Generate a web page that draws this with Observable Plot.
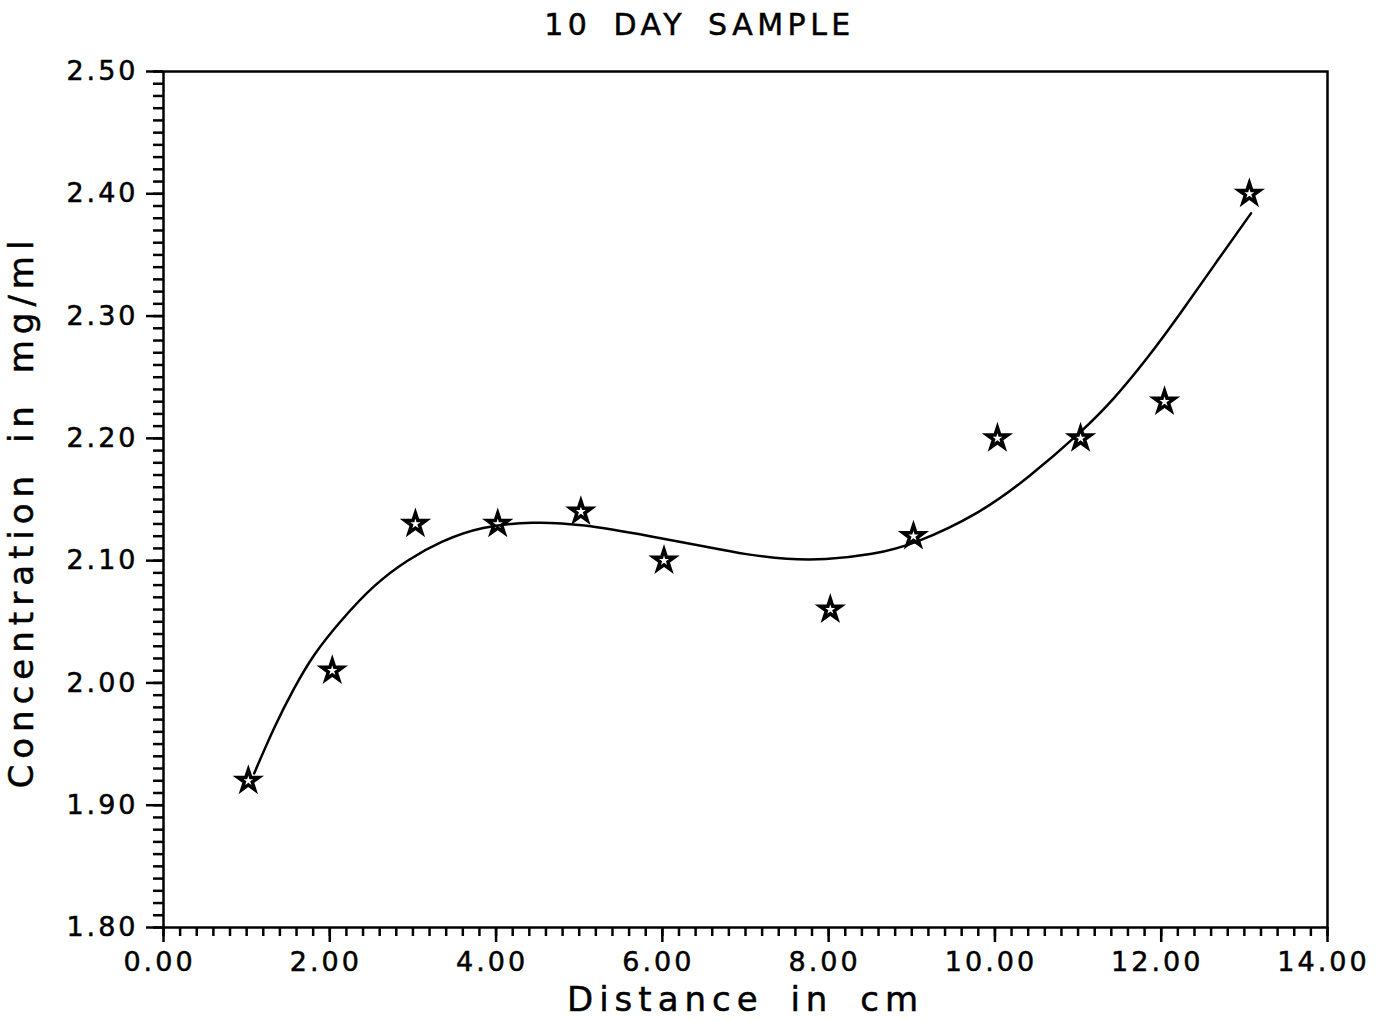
<!DOCTYPE html>
<html><head><meta charset="utf-8">
<script src="https://cdn.jsdelivr.net/npm/d3@7"></script>
<script src="https://cdn.jsdelivr.net/npm/@observablehq/plot@0.6"></script>
<style>body{margin:0;background:#fff} svg{display:block}</style>
</head><body><div id="chart"></div>
<script>
const title = "10 DAY SAMPLE";
const xLabel = "Distance in cm";
const yLabel = "Concentration in mg/ml";
const distance = [1.02, 2.03, 3.03, 4.02, 5.02, 6.02, 8.02, 9.02, 10.03, 11.03, 12.04, 13.06];
const concentration = [1.92, 2.01, 2.13, 2.13, 2.14, 2.10, 2.06, 2.12, 2.20, 2.20, 2.23, 2.40];
const fitDistance = [1.09, 1.33, 1.57, 1.81, 2.13, 2.54, 2.94, 3.34, 3.82, 4.45, 5.02, 5.86, 6.55, 7.0, 7.51, 7.94, 8.54, 9.02, 9.83, 10.39, 11.07, 11.43, 11.83, 12.23, 12.63, 13.08];
const fitConcentration = [1.926, 1.964, 1.996, 2.024, 2.051, 2.081, 2.101, 2.116, 2.128, 2.132, 2.130, 2.120, 2.111, 2.105, 2.101, 2.1005, 2.105, 2.113, 2.139, 2.167, 2.207, 2.232, 2.265, 2.302, 2.341, 2.384];
const xTicks = [0, 2, 4, 6, 8, 10, 12, 14];
const yTicks = [1.8, 1.9, 2.0, 2.1, 2.2, 2.3, 2.4, 2.5];

const points = distance.map((d, i) => ({x: d, y: concentration[i]}));
const fit = fitDistance.map((d, i) => ({x: d, y: fitConcentration[i]}));
const xMinor = d3.range(0, 71).map(i => i * 0.2);
const yMinor = d3.range(0, 71).map(i => 1.8 + i * 0.01);

const font = "DejaVu Sans, sans-serif";

const chart = Plot.plot({
  width: 1384,
  height: 1021,
  marginLeft: 163,
  marginRight: 57,
  marginTop: 71,
  marginBottom: 94,
  style: {fontFamily: font, color: "black", background: "white", overflow: "visible"},
  x: {domain: [0, 14], label: null},
  y: {domain: [1.8, 2.5], label: null},
  marks: [
    Plot.frame({stroke: "black", strokeWidth: 2.5}),
    Plot.axisX({ticks: xMinor, tickSize: 9, tickFormat: () => "", label: null, strokeWidth: 2.5}),
    Plot.axisY({ticks: yMinor, tickSize: 10, tickFormat: () => "", label: null, strokeWidth: 2.5}),
    Plot.axisX({ticks: xTicks, tickSize: 15, tickFormat: () => "", label: null, strokeWidth: 2.5}),
    Plot.axisX({ticks: xTicks, tickSize: 0, tickPadding: 24, tickFormat: d => d.toFixed(2),
      fontSize: 27, label: null, dx: -4}),
    Plot.axisY({ticks: yTicks, tickSize: 17, tickPadding: 8, tickFormat: d => d.toFixed(2),
      fontSize: 27, label: null, strokeWidth: 2.5}),
    Plot.line(fit, {x: "x", y: "y", curve: "basis", stroke: "black", strokeWidth: 2.5}),
    Plot.dot(points, {x: "x", y: "y", symbol: "star", r: 6.5, stroke: "black", strokeWidth: 3.5, fill: "none"}),
    Plot.text([title], {frameAnchor: "top", textAnchor: "middle", lineAnchor: "middle", dx: -46, dy: -46, fontSize: 30, text: d => d, className: "ttl"}),
    Plot.text([xLabel], {frameAnchor: "bottom", textAnchor: "middle", lineAnchor: "middle", dy: 73, fontSize: 34, text: d => d, className: "axl"}),
    Plot.text([yLabel], {frameAnchor: "left", textAnchor: "middle", lineAnchor: "middle", dx: -141, dy: 12, rotate: -90, fontSize: 34, text: d => d, className: "axl"})
  ]
});
document.getElementById("chart").appendChild(chart);
d3.select(chart).selectAll("text").style("letter-spacing", "3px").style("stroke", "black").style("stroke-width", "0.5px");
d3.select(chart).selectAll(".ttl text").style("letter-spacing", "4.5px").style("word-spacing", "8px");
d3.select(chart).selectAll(".axl text").style("letter-spacing", "6px").style("word-spacing", "10px");
</script>
</body></html>
